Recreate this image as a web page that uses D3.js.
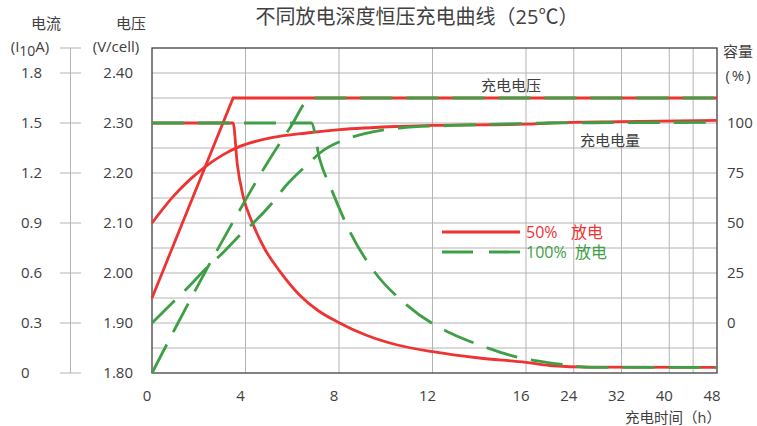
<!DOCTYPE html>
<html>
<head>
<meta charset="utf-8">
<script src="https://cdn.jsdelivr.net/npm/d3@7"></script>
<style>
  body { margin: 0; background: #fff; }
  text { font-family: "Open Sans", "Noto Sans CJK SC", sans-serif; fill: #404040; }
</style>
</head>
<body>
<div id="chart"></div>
<script>
// tick values
const hourTicks = [0, 4, 8, 12, 16, 24, 32, 40, 48];
const hourGrid = [4, 8, 12, 16, 24, 32, 40, 44];
const voltTicks = [1.80, 1.90, 2.00, 2.10, 2.20, 2.30, 2.40];
const currTicks = [0, 0.3, 0.6, 0.9, 1.2, 1.5, 1.8];
const capTicks = [0, 25, 50, 75, 100];

// 50% discharge (red), [hours, value]
const volt50 = [[0, 1.95], [3.47, 2.35], [48, 2.35]];
const curr50 = [[0, 1.5], [3.47, 1.5], [3.65, 1.25], [3.9, 1.06], [4.3, 0.9], [4.8, 0.75], [5.47, 0.61],
  [6.3, 0.47], [7.1, 0.375], [7.96, 0.305], [9.2, 0.225], [10.5, 0.168], [12, 0.128],
  [14, 0.09], [16, 0.064], [20, 0.045], [26.7, 0.035], [48, 0.034]];
const cap50 = [[0, 50], [0.91, 63.3], [1.62, 71.7], [2.34, 78.7], [3.05, 84.2], [3.76, 88.3], [5.18, 92.8],
  [6.61, 95], [8.03, 96.7], [10.6, 98.3], [12, 98.8], [16, 99.4], [20, 100], [31.7, 100.7], [48, 101.3]];

// 100% discharge (green)
const volt100 = [[0, 1.80], [1, 1.89], [2.25, 2.00], [3.5, 2.105], [4.8, 2.21], [5.9, 2.29], [6.82, 2.35], [48, 2.35]];
const curr100 = [[0, 1.5], [6.82, 1.5], [7.18, 1.28], [7.68, 1.10], [8.46, 0.85], [9.45, 0.62], [10.88, 0.41],
  [12.6, 0.25], [13.24, 0.21], [14.66, 0.136], [15.3, 0.107], [19.2, 0.065], [22, 0.052], [26.8, 0.034], [48, 0.034]];
const cap100 = [[0, 0], [1.01, 11.7], [1.47, 17], [2.48, 29.2], [2.91, 33.7], [3.9, 45.5], [4.33, 50], [5.26, 61.7],
  [5.68, 68], [6.72, 80], [7.18, 85], [8.46, 92.5], [9.1, 94.7], [10.6, 97.5], [12.9, 98.8], [15.2, 99.5],
  [20, 100], [48, 100.3]];

const RED = "#ee3333", GREEN = "#3e9f46";

const W = 757, H = 426;
const plotL = 152, plotR = 717, plotT = 48, plotB = 373;

const svg = d3.select("#chart").append("svg").attr("width", W).attr("height", H);

const x = d3.scaleLinear().domain([0, 16, 48]).range([plotL, 526, plotR]);
const yV = d3.scaleLinear().domain([1.80, 2.45]).range([plotB, plotT]);
const yI = d3.scaleLinear().domain([0, 1.8]).range([yV(1.80), yV(2.40)]);
const yC = d3.scaleLinear().domain([0, 100]).range([yV(1.90), yV(2.30)]);

// grid
svg.append("g").selectAll("line").data(d3.range(1.85, 2.449, 0.05)).enter().append("line")
  .attr("x1", plotL).attr("x2", plotR).attr("y1", d => yV(d)).attr("y2", d => yV(d))
  .attr("stroke", "#b4b4b4").attr("stroke-width", 1);
svg.append("g").selectAll("line").data(hourGrid).enter().append("line")
  .attr("x1", d => x(d)).attr("x2", d => x(d)).attr("y1", plotT).attr("y2", plotB)
  .attr("stroke", "#b4b4b4").attr("stroke-width", 1);

// frame
svg.append("rect").attr("x", plotL).attr("y", plotT).attr("width", plotR - plotL).attr("height", plotB - plotT)
  .attr("fill", "none").attr("stroke", "#404040").attr("stroke-width", 1.3);

// current axis (separate line on the far left)
svg.append("line").attr("x1", 70.5).attr("x2", 70.5).attr("y1", plotT).attr("y2", plotB)
  .attr("stroke", "#b4b4b4");
svg.append("g").selectAll("line").data(currTicks.concat([1.95])).enter().append("line")
  .attr("x1", 60).attr("x2", 81).attr("y1", d => yI(d)).attr("y2", d => yI(d))
  .attr("stroke", "#b4b4b4");
svg.append("g").selectAll("text").data(currTicks).enter().append("text")
  .attr("x", 21).attr("y", d => yI(d) + 5).attr("font-size", 15)
  .text(d => d === 0 ? "0" : d.toFixed(1));

// voltage labels
svg.append("g").selectAll("text").data(voltTicks).enter().append("text")
  .attr("x", 133).attr("y", d => yV(d) + 5).attr("font-size", 15).attr("text-anchor", "end")
  .text(d => d.toFixed(2));

// capacity labels
svg.append("g").selectAll("text").data(capTicks).enter().append("text")
  .attr("x", 727).attr("y", d => yC(d) + 5).attr("font-size", 15)
  .text(d => d);

// hour labels
svg.append("g").selectAll("text").data(hourTicks).enter().append("text")
  .attr("x", d => x(d) - 5).attr("y", 401).attr("font-size", 15).attr("text-anchor", "middle")
  .text(d => d);

// axis titles
svg.append("text").attr("x", 417).attr("y", 24).attr("font-size", 20).attr("text-anchor", "middle")
  .text("不同放电深度恒压充电曲线（25℃）");
svg.append("text").attr("x", 46).attr("y", 29).attr("font-size", 15).attr("text-anchor", "middle").text("电流");
const iLab = svg.append("text").attr("x", 30).attr("y", 52).attr("font-size", 15).attr("text-anchor", "middle");
iLab.append("tspan").text("(I");
iLab.append("tspan").attr("dy", 4).attr("font-size", 14).text("10");
iLab.append("tspan").attr("dy", -4).text("A)");
svg.append("text").attr("x", 131).attr("y", 29).attr("font-size", 15).attr("text-anchor", "middle").text("电压");
svg.append("text").attr("x", 116).attr("y", 52).attr("font-size", 15).attr("text-anchor", "middle").text("(V/cell)");
svg.append("text").attr("x", 738).attr("y", 57).attr("font-size", 15).attr("text-anchor", "middle").text("容量");
svg.append("text").attr("x", 739).attr("y", 81).attr("font-size", 15).attr("text-anchor", "middle")
  .attr("letter-spacing", 2).text("(%)");
svg.append("text").attr("x", 721).attr("y", 423).attr("font-size", 14.5).attr("text-anchor", "end").text("充电时间（h）");

// curve labels
svg.append("text").attr("x", 511).attr("y", 91).attr("font-size", 15).attr("text-anchor", "middle").text("充电电压");
svg.append("text").attr("x", 610).attr("y", 146).attr("font-size", 15).attr("text-anchor", "middle").text("充电电量");

// curves
function draw(data, yScale, color, dashed, curve) {
  const line = d3.line().x(d => x(d[0])).y(d => yScale(d[1])).curve(curve);
  svg.append("path").datum(data).attr("d", line)
    .attr("fill", "none").attr("stroke", color).attr("stroke-width", 2.8)
    .attr("stroke-dasharray", dashed ? "32,14" : null);
}
draw(volt50, yV, RED, false, d3.curveLinear);
draw(curr50, yI, RED, false, d3.curveMonotoneX);
draw(cap50, yC, RED, false, d3.curveMonotoneX);
draw(volt100, yV, GREEN, true, d3.curveMonotoneX);
draw(curr100, yI, GREEN, true, d3.curveMonotoneX);
draw(cap100, yC, GREEN, true, d3.curveMonotoneX);

// legend
const legend = svg.append("g");
legend.append("line").attr("x1", 442).attr("x2", 520).attr("y1", 232).attr("y2", 232)
  .attr("stroke", RED).attr("stroke-width", 2.8);
legend.append("line").attr("x1", 442).attr("x2", 520).attr("y1", 252).attr("y2", 252)
  .attr("stroke", GREEN).attr("stroke-width", 2.8).attr("stroke-dasharray", "31,16");
legend.append("text").attr("x", 526).attr("y", 238).attr("font-size", 16).style("fill", RED).text("50%");
legend.append("text").attr("x", 571).attr("y", 238).attr("font-size", 16).style("fill", RED).text("放电");
legend.append("text").attr("x", 526).attr("y", 258).attr("font-size", 16).style("fill", GREEN).text("100%");
legend.append("text").attr("x", 575).attr("y", 258).attr("font-size", 16).style("fill", GREEN).text("放电");
</script>
</body>
</html>
